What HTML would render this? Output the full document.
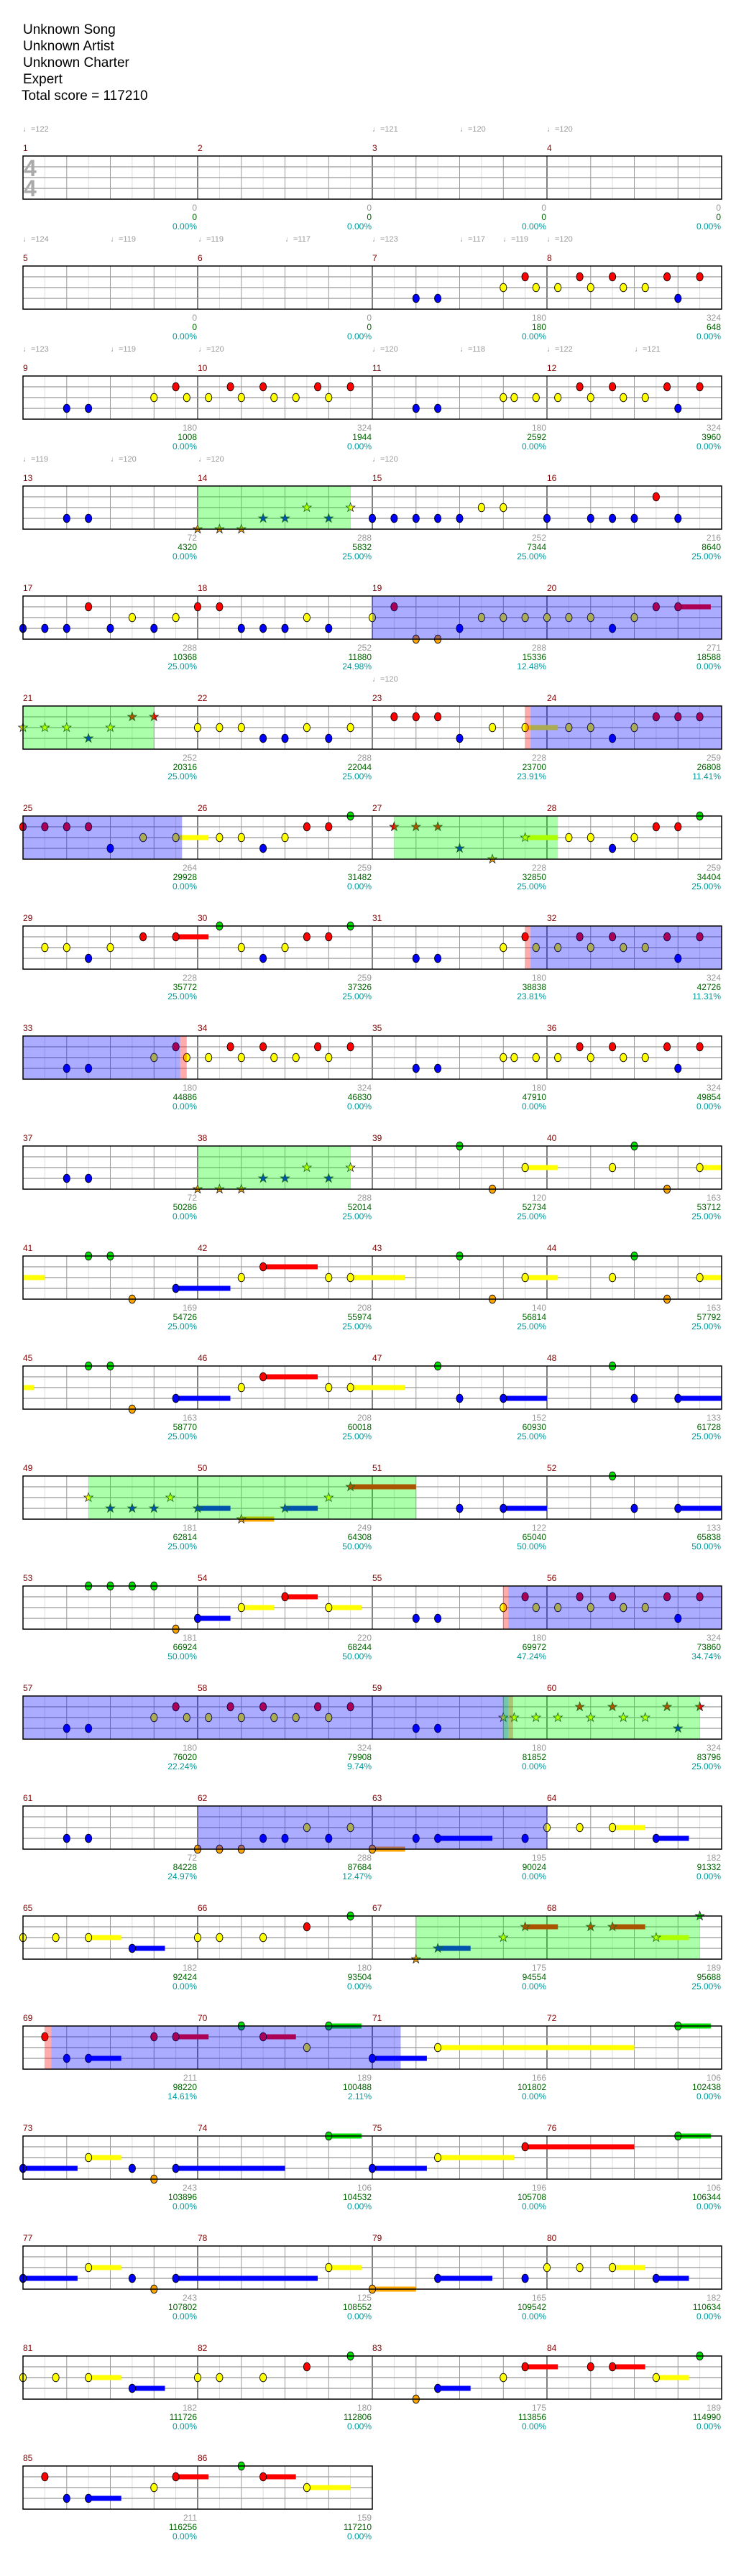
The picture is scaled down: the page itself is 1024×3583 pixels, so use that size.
<!DOCTYPE html>
<html><head><meta charset="utf-8">
<style>
html,body{margin:0;padding:0;background:#fff;}
body{width:1024px;height:3583px;position:relative;overflow:hidden;font-family:"Liberation Sans","DejaVu Sans",sans-serif;}
.h{position:absolute;left:32px;font-size:19px;line-height:23px;color:#000;white-space:nowrap;}
.r{position:absolute;left:0;width:1024px;height:0;}
.r i{position:absolute;font-style:normal;font-size:12px;line-height:14px;white-space:nowrap;}
.n{top:-18px;color:#800000;}
.a{top:65px;color:#999;}
.b{top:78px;color:#060;}
.c{top:91px;color:#099;}
.t{top:-44px;color:#999;font-size:11px !important;}
.m0{left:32px}.m1{left:275px}.m2{left:518px}.m3{left:761px}
.k0{right:750px}.k1{right:507px}.k2{right:264px}.k3{right:21px}
#wrap{position:absolute;left:0;top:0;width:1024px;height:3583px;}
#wrap svg{position:absolute;left:0;top:0;}
.ts{position:absolute;left:33px;font-size:32px;font-weight:bold;color:#aaa;line-height:30px;}
</style></head><body>
<div id="wrap"></div>
<div class="h" style="top:30px">Unknown Song</div>
<div class="h" style="top:53px">Unknown Artist</div>
<div class="h" style="top:76px">Unknown Charter</div>
<div class="h" style="top:99px">Expert</div>
<div class="h" style="top:122px;left:30px">Total score = 117210</div>
<div class="ts" style="top:219px">4</div>
<div class="ts" style="top:247px">4</div>

<div class="r" style="top:217px">
<i class="t" style="left:32px">♩=122</i><i class="t" style="left:518px">♩=121</i><i class="t" style="left:640px">♩=120</i><i class="t" style="left:761px">♩=120</i>
<i class="n m0">1</i><i class="n m1">2</i><i class="n m2">3</i><i class="n m3">4</i>
<i class="a k0">0</i><i class="b k0">0</i><i class="c k0">0.00%</i>
<i class="a k1">0</i><i class="b k1">0</i><i class="c k1">0.00%</i>
<i class="a k2">0</i><i class="b k2">0</i><i class="c k2">0.00%</i>
<i class="a k3">0</i><i class="b k3">0</i><i class="c k3">0.00%</i>
</div>
<div class="r" style="top:370px">
<i class="t" style="left:32px">♩=124</i><i class="t" style="left:154px">♩=119</i><i class="t" style="left:276px">♩=119</i><i class="t" style="left:397px">♩=117</i><i class="t" style="left:518px">♩=123</i><i class="t" style="left:640px">♩=117</i><i class="t" style="left:700px">♩=119</i><i class="t" style="left:761px">♩=120</i>
<i class="n m0">5</i><i class="n m1">6</i><i class="n m2">7</i><i class="n m3">8</i>
<i class="a k0">0</i><i class="b k0">0</i><i class="c k0">0.00%</i>
<i class="a k1">0</i><i class="b k1">0</i><i class="c k1">0.00%</i>
<i class="a k2">180</i><i class="b k2">180</i><i class="c k2">0.00%</i>
<i class="a k3">324</i><i class="b k3">648</i><i class="c k3">0.00%</i>
</div>
<div class="r" style="top:523px">
<i class="t" style="left:32px">♩=123</i><i class="t" style="left:154px">♩=119</i><i class="t" style="left:276px">♩=120</i><i class="t" style="left:518px">♩=120</i><i class="t" style="left:640px">♩=118</i><i class="t" style="left:761px">♩=122</i><i class="t" style="left:883px">♩=121</i>
<i class="n m0">9</i><i class="n m1">10</i><i class="n m2">11</i><i class="n m3">12</i>
<i class="a k0">180</i><i class="b k0">1008</i><i class="c k0">0.00%</i>
<i class="a k1">324</i><i class="b k1">1944</i><i class="c k1">0.00%</i>
<i class="a k2">180</i><i class="b k2">2592</i><i class="c k2">0.00%</i>
<i class="a k3">324</i><i class="b k3">3960</i><i class="c k3">0.00%</i>
</div>
<div class="r" style="top:676px">
<i class="t" style="left:32px">♩=119</i><i class="t" style="left:154px">♩=120</i><i class="t" style="left:276px">♩=120</i><i class="t" style="left:518px">♩=120</i>
<i class="n m0">13</i><i class="n m1">14</i><i class="n m2">15</i><i class="n m3">16</i>
<i class="a k0">72</i><i class="b k0">4320</i><i class="c k0">0.00%</i>
<i class="a k1">288</i><i class="b k1">5832</i><i class="c k1">25.00%</i>
<i class="a k2">252</i><i class="b k2">7344</i><i class="c k2">25.00%</i>
<i class="a k3">216</i><i class="b k3">8640</i><i class="c k3">25.00%</i>
</div>
<div class="r" style="top:829px">
<i class="n m0">17</i><i class="n m1">18</i><i class="n m2">19</i><i class="n m3">20</i>
<i class="a k0">288</i><i class="b k0">10368</i><i class="c k0">25.00%</i>
<i class="a k1">252</i><i class="b k1">11880</i><i class="c k1">24.98%</i>
<i class="a k2">288</i><i class="b k2">15336</i><i class="c k2">12.48%</i>
<i class="a k3">271</i><i class="b k3">18588</i><i class="c k3">0.00%</i>
</div>
<div class="r" style="top:982px">
<i class="t" style="left:518px">♩=120</i>
<i class="n m0">21</i><i class="n m1">22</i><i class="n m2">23</i><i class="n m3">24</i>
<i class="a k0">252</i><i class="b k0">20316</i><i class="c k0">25.00%</i>
<i class="a k1">288</i><i class="b k1">22044</i><i class="c k1">25.00%</i>
<i class="a k2">228</i><i class="b k2">23700</i><i class="c k2">23.91%</i>
<i class="a k3">259</i><i class="b k3">26808</i><i class="c k3">11.41%</i>
</div>
<div class="r" style="top:1135px">
<i class="n m0">25</i><i class="n m1">26</i><i class="n m2">27</i><i class="n m3">28</i>
<i class="a k0">264</i><i class="b k0">29928</i><i class="c k0">0.00%</i>
<i class="a k1">259</i><i class="b k1">31482</i><i class="c k1">0.00%</i>
<i class="a k2">228</i><i class="b k2">32850</i><i class="c k2">25.00%</i>
<i class="a k3">259</i><i class="b k3">34404</i><i class="c k3">25.00%</i>
</div>
<div class="r" style="top:1288px">
<i class="n m0">29</i><i class="n m1">30</i><i class="n m2">31</i><i class="n m3">32</i>
<i class="a k0">228</i><i class="b k0">35772</i><i class="c k0">25.00%</i>
<i class="a k1">259</i><i class="b k1">37326</i><i class="c k1">25.00%</i>
<i class="a k2">180</i><i class="b k2">38838</i><i class="c k2">23.81%</i>
<i class="a k3">324</i><i class="b k3">42726</i><i class="c k3">11.31%</i>
</div>
<div class="r" style="top:1441px">
<i class="n m0">33</i><i class="n m1">34</i><i class="n m2">35</i><i class="n m3">36</i>
<i class="a k0">180</i><i class="b k0">44886</i><i class="c k0">0.00%</i>
<i class="a k1">324</i><i class="b k1">46830</i><i class="c k1">0.00%</i>
<i class="a k2">180</i><i class="b k2">47910</i><i class="c k2">0.00%</i>
<i class="a k3">324</i><i class="b k3">49854</i><i class="c k3">0.00%</i>
</div>
<div class="r" style="top:1594px">
<i class="n m0">37</i><i class="n m1">38</i><i class="n m2">39</i><i class="n m3">40</i>
<i class="a k0">72</i><i class="b k0">50286</i><i class="c k0">0.00%</i>
<i class="a k1">288</i><i class="b k1">52014</i><i class="c k1">25.00%</i>
<i class="a k2">120</i><i class="b k2">52734</i><i class="c k2">25.00%</i>
<i class="a k3">163</i><i class="b k3">53712</i><i class="c k3">25.00%</i>
</div>
<div class="r" style="top:1747px">
<i class="n m0">41</i><i class="n m1">42</i><i class="n m2">43</i><i class="n m3">44</i>
<i class="a k0">169</i><i class="b k0">54726</i><i class="c k0">25.00%</i>
<i class="a k1">208</i><i class="b k1">55974</i><i class="c k1">25.00%</i>
<i class="a k2">140</i><i class="b k2">56814</i><i class="c k2">25.00%</i>
<i class="a k3">163</i><i class="b k3">57792</i><i class="c k3">25.00%</i>
</div>
<div class="r" style="top:1900px">
<i class="n m0">45</i><i class="n m1">46</i><i class="n m2">47</i><i class="n m3">48</i>
<i class="a k0">163</i><i class="b k0">58770</i><i class="c k0">25.00%</i>
<i class="a k1">208</i><i class="b k1">60018</i><i class="c k1">25.00%</i>
<i class="a k2">152</i><i class="b k2">60930</i><i class="c k2">25.00%</i>
<i class="a k3">133</i><i class="b k3">61728</i><i class="c k3">25.00%</i>
</div>
<div class="r" style="top:2053px">
<i class="n m0">49</i><i class="n m1">50</i><i class="n m2">51</i><i class="n m3">52</i>
<i class="a k0">181</i><i class="b k0">62814</i><i class="c k0">25.00%</i>
<i class="a k1">249</i><i class="b k1">64308</i><i class="c k1">50.00%</i>
<i class="a k2">122</i><i class="b k2">65040</i><i class="c k2">50.00%</i>
<i class="a k3">133</i><i class="b k3">65838</i><i class="c k3">50.00%</i>
</div>
<div class="r" style="top:2206px">
<i class="n m0">53</i><i class="n m1">54</i><i class="n m2">55</i><i class="n m3">56</i>
<i class="a k0">181</i><i class="b k0">66924</i><i class="c k0">50.00%</i>
<i class="a k1">220</i><i class="b k1">68244</i><i class="c k1">50.00%</i>
<i class="a k2">180</i><i class="b k2">69972</i><i class="c k2">47.24%</i>
<i class="a k3">324</i><i class="b k3">73860</i><i class="c k3">34.74%</i>
</div>
<div class="r" style="top:2359px">
<i class="n m0">57</i><i class="n m1">58</i><i class="n m2">59</i><i class="n m3">60</i>
<i class="a k0">180</i><i class="b k0">76020</i><i class="c k0">22.24%</i>
<i class="a k1">324</i><i class="b k1">79908</i><i class="c k1">9.74%</i>
<i class="a k2">180</i><i class="b k2">81852</i><i class="c k2">0.00%</i>
<i class="a k3">324</i><i class="b k3">83796</i><i class="c k3">25.00%</i>
</div>
<div class="r" style="top:2512px">
<i class="n m0">61</i><i class="n m1">62</i><i class="n m2">63</i><i class="n m3">64</i>
<i class="a k0">72</i><i class="b k0">84228</i><i class="c k0">24.97%</i>
<i class="a k1">288</i><i class="b k1">87684</i><i class="c k1">12.47%</i>
<i class="a k2">195</i><i class="b k2">90024</i><i class="c k2">0.00%</i>
<i class="a k3">182</i><i class="b k3">91332</i><i class="c k3">0.00%</i>
</div>
<div class="r" style="top:2665px">
<i class="n m0">65</i><i class="n m1">66</i><i class="n m2">67</i><i class="n m3">68</i>
<i class="a k0">182</i><i class="b k0">92424</i><i class="c k0">0.00%</i>
<i class="a k1">180</i><i class="b k1">93504</i><i class="c k1">0.00%</i>
<i class="a k2">175</i><i class="b k2">94554</i><i class="c k2">0.00%</i>
<i class="a k3">189</i><i class="b k3">95688</i><i class="c k3">25.00%</i>
</div>
<div class="r" style="top:2818px">
<i class="n m0">69</i><i class="n m1">70</i><i class="n m2">71</i><i class="n m3">72</i>
<i class="a k0">211</i><i class="b k0">98220</i><i class="c k0">14.61%</i>
<i class="a k1">189</i><i class="b k1">100488</i><i class="c k1">2.11%</i>
<i class="a k2">166</i><i class="b k2">101802</i><i class="c k2">0.00%</i>
<i class="a k3">106</i><i class="b k3">102438</i><i class="c k3">0.00%</i>
</div>
<div class="r" style="top:2971px">
<i class="n m0">73</i><i class="n m1">74</i><i class="n m2">75</i><i class="n m3">76</i>
<i class="a k0">243</i><i class="b k0">103896</i><i class="c k0">0.00%</i>
<i class="a k1">106</i><i class="b k1">104532</i><i class="c k1">0.00%</i>
<i class="a k2">196</i><i class="b k2">105708</i><i class="c k2">0.00%</i>
<i class="a k3">106</i><i class="b k3">106344</i><i class="c k3">0.00%</i>
</div>
<div class="r" style="top:3124px">
<i class="n m0">77</i><i class="n m1">78</i><i class="n m2">79</i><i class="n m3">80</i>
<i class="a k0">243</i><i class="b k0">107802</i><i class="c k0">0.00%</i>
<i class="a k1">125</i><i class="b k1">108552</i><i class="c k1">0.00%</i>
<i class="a k2">165</i><i class="b k2">109542</i><i class="c k2">0.00%</i>
<i class="a k3">182</i><i class="b k3">110634</i><i class="c k3">0.00%</i>
</div>
<div class="r" style="top:3277px">
<i class="n m0">81</i><i class="n m1">82</i><i class="n m2">83</i><i class="n m3">84</i>
<i class="a k0">182</i><i class="b k0">111726</i><i class="c k0">0.00%</i>
<i class="a k1">180</i><i class="b k1">112806</i><i class="c k1">0.00%</i>
<i class="a k2">175</i><i class="b k2">113856</i><i class="c k2">0.00%</i>
<i class="a k3">189</i><i class="b k3">114990</i><i class="c k3">0.00%</i>
</div>
<div class="r" style="top:3430px">
<i class="n m0">85</i><i class="n m1">86</i>
<i class="a k0">211</i><i class="b k0">116256</i><i class="c k0">0.00%</i>
<i class="a k1">159</i><i class="b k1">117210</i><i class="c k1">0.00%</i>
</div>

<script>
(function(){
var P1="12Y 14R 15Y 17Y 19R 20Y 22R 23Y 25Y 27R 28Y 30R";
var P2="36B 38B 44Y 45Y 47Y 49Y 51R 52Y 54R 55Y 57Y 59R 60B 62R";
var P3="36B 38B 44Y 46R 47Y 49Y 51R 52Y 54R 55Y 57Y 59R 60B 62R";
var SP="16Os 18Os 20Os 22Bs 24Bs 26Ys 28Bs 30Ys";
var rows=[
 ["",[]],
 ["36B 38B 44Y 46R 47Y 49Y 51R 52Y 54R 55Y 57Y 59R 60B 62R",[]],
 ["4B 6B "+P1+" "+P2,[]],
 ["4B 6B "+SP+" 32B 34B 36B 38B 40B 42Y 44Y 48B 52B 54B 56B 58R 60B",[["g",16,30]]],
 ["0B 2B 4B 6R 8B 10Y 12B 14Y 16R 18R 20B 22B 24B 26Y 28B 32Y 34R 36O 38O 40B 42Y 44Y 46Y 48Y 50Y 52Y 54B 56Y 58R 60R3",[["b",32,64]]],
 ["0Ys 2Ys 4Ys 6Bs 8Ys 10Rs 12Rs 16Y 18Y 20Y 22B 24B 26Y 28B 30Y 34R 36R 38R 40B 43Y 46Y3 50Y 52Y 54B 56Y 58R 60R 62R",[["g",0,12],["p",46,46.5],["b",46.5,64]]],
 ["0R 2R 4R 6R 8B 11Y 14Y3 18Y 20Y 22B 24Y 26R 28R 30G 34Rs 36Rs 38Rs 40Bs 43Os 46Ys3 50Y 52Y 54B 56Y 58R 60R 62G",[["b",0,14.57],["g",34,49]]],
 ["2Y 4Y 6B 8Y 11R 14R3 18G 20Y 22B 24Y 26R 28R 30G "+P3,[["p",46,46.5],["b",46.5,64]]],
 ["4B 6B "+P1+" "+P2,[["b",0,14.4],["p",14.4,15]]],
 ["4B 6B "+SP+" 40G 43O 46Y3 54Y 56G 59O 62Y2",[["g",16,30]]],
 ["0Y2t 6G 8G 10O 14B5 20Y 22R5 28Y 30Y5 40G 43O 46Y3 54Y 56G 59O 62Y2",[]],
 ["0Y1t 6G 8G 10O 14B5 20Y 22R5 28Y 30Y5 38G 40B 44B4 54G 56B 60B4",[]],
 ["6Ys 8Bs 10Bs 12Bs 13.5Ys 16Bs3 20Os3 24Bs3 28Ys 30Rs6 40B 44B4 54G 56B 60B4",[["g",6,36]]],
 ["6G 8G 10G 12G 14O 16B3 20Y3 24R3 28Y3 "+P3,[["p",44,44.45],["b",44.45,64]]],
 ["4B 6B "+P1+" 36B 38B 44Ys 45Ys 47Ys 49Ys 51Rs 52Ys 54Rs 55Ys 57Ys 59Rs 60Bs 62Rs",[["b",0,44.45],["p",44.45,44.9],["g",44,62]]],
 ["4B 6B 16O 18O 20O 22B 24B 26Y 28B 30Y 32O3 36B 38B5 46B 48Y 51Y 54Y3 58B3",[["b",16,48]]],
 ["0Y 3Y 6Y3 10B3 16Y 18Y 22Y 26R 30G 36Os 38Bs3 44Ys 46Rs3 52Rs 54Rs3 58Ys3 62Gs",[["g",36,62]]],
 ["2R 4B 6B3 12R 14R3 20G 22R3 26Y 28G3 32B5 38Y18 60G3",[["p",2,2.6],["b",2.6,34.6]]],
 ["0B5 6Y3 10B 12O 14B10 28G3 32B5 38Y7 46R10 60G3",[]],
 ["0B5 6Y3 10B 12O 14B13 28Y3 32O4 38B5 46B 48Y 51Y 54Y3 58B3",[]],
 ["0Y 3Y 6Y3 10B3 16Y 18Y 22Y 26R 30G 36O 38B3 44Y 46R3 52R 54R3 58Y3 62G",[]],
 ["2R 4B 6B3 12Y 14R3 20G 22R3 26Y4",[]]
];
var C={G:'#00e000',R:'#ff0000',Y:'#ffff00',B:'#0000ff',O:'#ffa500'};
var L={G:0,R:1,Y:2,B:3,O:4};
var RC={g:'rgba(0,255,0,0.33)',b:'rgba(0,0,255,0.33)',p:'rgba(255,0,0,0.33)'};
var u=243/16,s='';
function star(cx,cy,col){var p=[];for(var k=0;k<10;k++){var a=-Math.PI/2+k*Math.PI/5,rr=k%2?2.6:6.5;p.push((cx+rr*Math.cos(a)).toFixed(1)+','+(cy+rr*Math.sin(a)).toFixed(1));}
 return '<polygon points="'+p.join(' ')+'" fill="'+col+'" stroke="#222" stroke-width="0.8"/>';}
for(var r=0;r<rows.length;r++){
 var T=217+153*r,W=(r==21?486:972),X0=32;
 s+='<rect x="32" y="'+T+'" width="'+W+'" height="60" fill="#fff"/>';
 var n=Math.round(W/(u*2));
 var lt='',md='',bk='';
 for(var i=1;i<n;i++){var x=(X0+i*u*2).toFixed(1);var l='<line x1="'+x+'" y1="'+T+'" x2="'+x+'" y2="'+(T+60)+'" stroke="';
  if(i%8==0)bk+=l+'#000" stroke-width="1"/>';else if(i%2==0)md+=l+'#999" stroke-width="1"/>';else lt+=l+'#ddd" stroke-width="1"/>';}
 s+=lt+md+bk;
 for(var h=1;h<4;h++)s+='<line x1="32" y1="'+(T+15*h)+'" x2="'+(32+W)+'" y2="'+(T+15*h)+'" stroke="#999" stroke-width="1.2"/>';
 var notes=[];
 rows[r][0].split(' ').forEach(function(t){if(!t)return;var m=t.match(/^([\d.]+)([GRYBO])(s?)([\d.]*)(s?)(t?)$/);if(!m)return;
  notes.push({p:+m[1],c:m[2],len:m[4]?+m[4]:0,st:!!(m[3]||m[5]),tail:!!m[6]});});
 notes.forEach(function(o){if(o.len){var x=X0+o.p*u,y=T+15*L[o.c];s+='<rect x="'+x.toFixed(1)+'" y="'+(y-3.5)+'" width="'+(o.len*u).toFixed(1)+'" height="7" fill="'+C[o.c]+'"/>';}});
 notes.forEach(function(o){if(o.tail)return;var x=X0+o.p*u,y=T+15*L[o.c];
  if(o.st)s+=star(x,y,C[o.c]);else s+='<ellipse cx="'+x.toFixed(1)+'" cy="'+y+'" rx="4.6" ry="5.8" fill="'+C[o.c]+'" stroke="#000" stroke-width="0.9"/>';});
 rows[r][1].forEach(function(g){var x1=X0+g[1]*u,x2=X0+g[2]*u;s+='<rect x="'+x1.toFixed(1)+'" y="'+T+'" width="'+(x2-x1).toFixed(1)+'" height="60" fill="'+RC[g[0]]+'"/>';});
 s+='<rect x="32" y="'+T+'" width="'+W+'" height="60" fill="none" stroke="#000" stroke-width="1.5"/>';
}
document.getElementById('wrap').innerHTML='<svg xmlns="http://www.w3.org/2000/svg" width="1024" height="3583" viewBox="0 0 1024 3583">'+s+'</svg>';
})();
</script>
</body></html>
